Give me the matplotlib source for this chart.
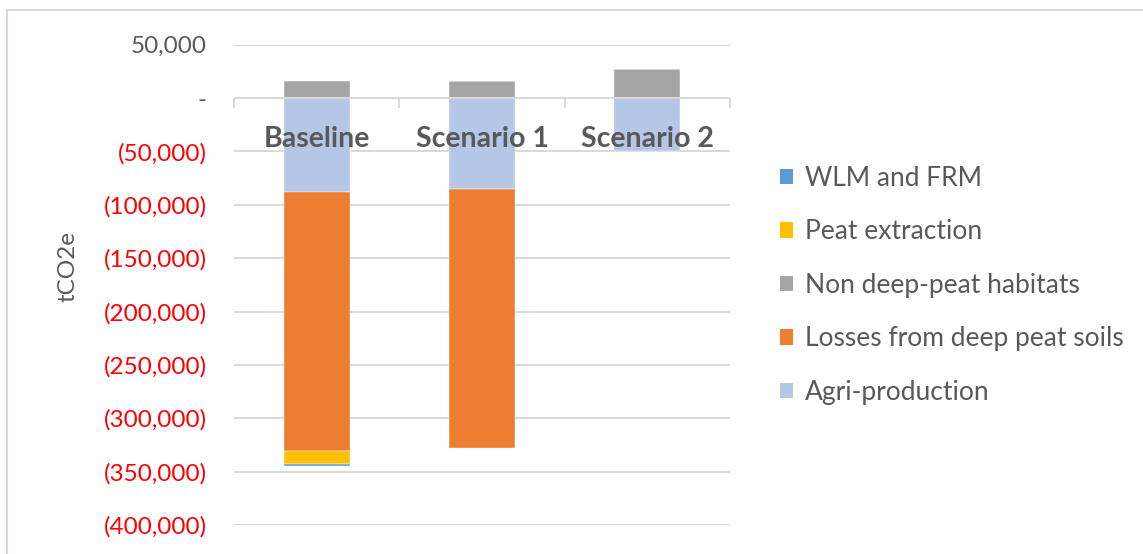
import matplotlib
matplotlib.use("Agg")
import matplotlib.pyplot as plt
from matplotlib.lines import Line2D
from matplotlib.patches import Patch
import numpy as np

plt.rcParams['font.family'] = ['Lato', 'DejaVu Sans']

# Emissions by scenario (tCO2e)
scenarios = ["Baseline", "Scenario 1", "Scenario 2"]
agri_production = [-87900, -85100, -50000]
losses_deep_peat = [-242800, -242500, 0]
non_deep_peat = [15600, 15600, 27200]
peat_extraction = [-12200, 0, 0]
wlm_frm = [-1500, 0, 0]

y_ticks = [50000, 0, -50000, -100000, -150000, -200000, -250000, -300000, -350000, -400000]

series = [
    ("Agri-production", agri_production, "#B4C7E7"),
    ("Losses from deep peat soils", losses_deep_peat, "#ED7D31"),
    ("Non deep-peat habitats", non_deep_peat, "#A5A5A5"),
    ("Peat extraction", peat_extraction, "#FFC000"),
    ("WLM and FRM", wlm_frm, "#5B9BD5"),
]

W, H = 1143, 554
fig = plt.figure(figsize=(W / 100, H / 100), dpi=100)
ax = fig.add_axes([234 / W, 1 - 525 / H, (730 - 234) / W, (525 - 44.7) / H])

x = np.arange(len(scenarios))
pos_base = np.zeros(len(scenarios))
neg_base = np.zeros(len(scenarios))
for name, vals, color in series:
    v = np.array(vals, dtype=float)
    bottoms = np.where(v >= 0, pos_base, neg_base)
    ax.bar(x, v, bottom=bottoms, width=0.4, color=color, zorder=3,
           edgecolor="white", linewidth=0.3)
    pos_base += np.where(v >= 0, v, 0)
    neg_base += np.where(v < 0, v, 0)

ax.set_xlim(-0.5, len(scenarios) - 0.5)
ax.set_ylim(-400000, 50000)

grid_c = "#D9D9D9"
for t in y_ticks:
    if t != 0:
        ax.axhline(t, color=grid_c, linewidth=1.5, zorder=1)
# zero axis with category boundary ticks
ax.axhline(0, color=grid_c, linewidth=1.5, zorder=4)
for b in np.arange(-0.5, len(scenarios), 1.0):
    ax.plot([b, b], [0, -10 / 53.33 * 50000], color=grid_c, linewidth=1.5,
            zorder=4, solid_capstyle="butt", clip_on=False)

for s in ax.spines.values():
    s.set_visible(False)
ax.set_xticks([])
ax.set_yticks(y_ticks)


def fmt(v):
    if v == 0:
        return "-"
    if v < 0:
        return "({:,})".format(-v)
    return "{:,}".format(v)


ax.set_yticklabels([fmt(t) for t in y_ticks])
ax.tick_params(axis="y", length=0, pad=19.5, labelsize=17.5)
for lbl, t in zip(ax.get_yticklabels(), y_ticks):
    lbl.set_color("#FF0000" if t < 0 else "#595959")

# category labels sit just below the zero line
for xi, name in zip(x, scenarios):
    ax.text(xi, -38000, name, ha="center", va="center", fontsize=20.5,
            fontweight="bold", color="#595959", zorder=5)

fig.text(68 / W, 1 - 267 / H, "tCO2e", rotation=90, ha="center", va="center",
         fontsize=17.5, color="#595959")

# legend, listed in reverse stacking order
handles = [Patch(facecolor=c, edgecolor="none") for _, _, c in series][::-1]
labels = [n for n, _, _ in series][::-1]
leg = fig.legend(handles, labels, loc="upper left",
                 bbox_to_anchor=(756 / W, 1 - 142 / H), frameon=False,
                 fontsize=19, labelcolor="#595959", handlelength=0.52,
                 handleheight=0.52, handletextpad=0.42, labelspacing=1.08)

# outer chart border (top and left edges)
border = "#D9D9D9"
fig.add_artist(Line2D([7 / W, 1], [1 - 9.5 / H, 1 - 9.5 / H], color=border,
                      linewidth=1.5, transform=fig.transFigure))
fig.add_artist(Line2D([7 / W, 7 / W], [0, 1 - 9.5 / H], color=border,
                      linewidth=1.5, transform=fig.transFigure))

fig.savefig("out.png", dpi=100, facecolor="white")
